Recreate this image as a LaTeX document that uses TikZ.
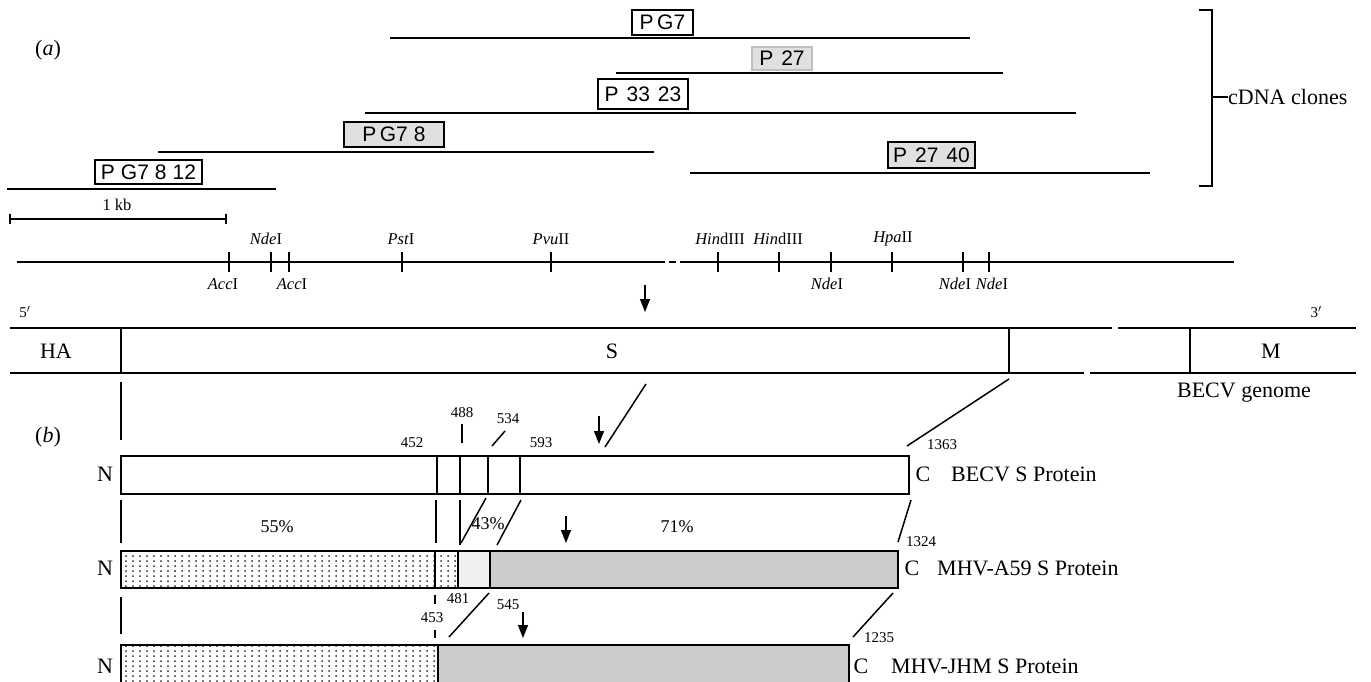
\documentclass[tikz,border=0pt]{standalone}
\usepackage{fontspec}
\setmainfont{Liberation Serif}
\newfontfamily\clonefont{Liberation Sans}
\usetikzlibrary{arrows.meta,patterns}
\pgfdeclarepatternformonly{sparsedots}{\pgfqpoint{-2pt}{-2pt}}{\pgfqpoint{2pt}{2pt}}{\pgfqpoint{7pt}{5pt}}{\pgfpathcircle{\pgfqpoint{0pt}{0pt}}{1pt}\pgfusepath{fill}}
\tikzset{
  big/.style={font=\fontsize{22}{26}\selectfont, inner sep=0pt},
  num/.style={font=\fontsize{15}{18}\selectfont, inner sep=0pt},
  enz/.style={font=\fontsize{16.5}{20}\selectfont, inner sep=0pt},
  pct/.style={font=\fontsize{18}{21}\selectfont, inner sep=0pt},
  clonebox/.style={font=\clonefont\fontsize{21}{24}\selectfont, inner sep=0pt, draw, line width=1.2pt, fill=white},
  ln/.style={line width=1.5pt},
  thin/.style={line width=1.2pt},
  arr/.style={line width=1.4pt, -{Triangle[length=13pt,width=10pt]}},
  dotfill/.style={pattern=sparsedots, pattern color=black!85},
  grayfill/.style={fill=black!20},
}
\begin{document}
\begin{tikzpicture}[x=1pt,y=-1pt]
\useasboundingbox (0,0) rectangle (1371,681);

% ---------------- (a) cDNA clones ----------------
\node[big] (la) at (48,50) {(\textit{a})};

\draw[ln] (390,38) -- (970,38);
\draw[ln] (616,73) -- (1003,73);
\draw[ln] (365,113) -- (1076,113);
\draw[ln] (158,152) -- (654,152);
\draw[ln] (690,173) -- (1150,173);
\draw[ln] (7,189) -- (276,189);

\node[clonebox, minimum width=61pt, minimum height=25pt] (pg7) at (662.5,22.5) {P\,G7};
\node[clonebox, draw=black!25, fill=black!12, minimum width=60pt, minimum height=23pt] (p27) at (782,58.5) {P\hspace{8pt}27};
\node[clonebox, minimum width=90pt, minimum height=30pt] (p3323) at (643,94) {P\hspace{8pt}33\hspace{8pt}23};
\node[clonebox, fill=black!12, minimum width=100pt, minimum height=25pt] (pg78) at (394,134.5) {P\,G7\hspace{6pt}8};
\node[clonebox, fill=black!12, minimum width=87pt, minimum height=26pt] (p2740) at (931.5,155) {P\hspace{8pt}27\hspace{8pt}40};
\node[clonebox, minimum width=107pt, minimum height=24pt] (pg7812) at (148.5,172) {P\hspace{6pt}G7\hspace{6pt}8\hspace{6pt}12};

% bracket
\coordinate (bt) at (1212,10);
\coordinate (bb) at (1212,186);
\coordinate (bm) at (1212,97);
\draw[thin] (1199,10) -- (bt) -- (bb) -- (1199,186);
\node[big, anchor=west] (cdna) at (1228,97) {cDNA clones};
\draw[thin] (bm) -- (cdna.west);

% ---------------- restriction map ----------------
\draw[thin] (10,219) -- (226,219);
\draw[thin] (10,214) -- (10,224);
\draw[thin] (226,214) -- (226,224);
\node[enz] (kb) at (117,205) {1 kb};

\draw[line width=1.6pt] (17,262) -- (665,262);
\draw[line width=1.6pt] (669,262) -- (676,262);
\draw[line width=1.6pt] (680,262) -- (1234,262);

\foreach \x in {229,271,289,402,551,718,779,831,892,963,989}
  \draw[thin] (\x,252) -- (\x,272);

\node[enz] (e1) at (266,239) {\textit{Nde}I};
\node[enz] (e2) at (401,239) {\textit{Pst}I};
\node[enz] (e3) at (551,239) {\textit{Pvu}II};
\node[enz] (e4) at (720,239) {\textit{Hin}dIII};
\node[enz] (e5) at (778,239) {\textit{Hin}dIII};
\node[enz] (e6) at (893,239) {\textit{Hpa}II};
\node[enz] (e7) at (223,284) {\textit{Acc}I};
\node[enz] (e8) at (292,284) {\textit{Acc}I};
\node[enz] (e9) at (827,284) {\textit{Nde}I};
\node[enz] (e10) at (955,284) {\textit{Nde}I};
\node[enz] (e11) at (992,284) {\textit{Nde}I};

\draw[arr] (645,285) -- (645,312);

% ---------------- genome ----------------
\node[num] (p5) at (25,312) {5$'$};
\node[num] (p3) at (1316,312) {3$'$};
\draw[ln] (10,328) -- (1112,328);
\draw[ln] (1118,328) -- (1356,328);
\draw[ln] (10,373) -- (1084,373);
\draw[ln] (1090,373) -- (1356,373);
\draw[thin] (121,328) -- (121,373);
\draw[thin] (1009,328) -- (1009,373);
\draw[thin] (1190,328) -- (1190,373);
\node[big] (ha) at (56,351) {HA};
\node[big] (s) at (612,351) {S};
\node[big] (m) at (1271,351) {M};
\node[big] (gen) at (1244,393) {BECV genome};

% ---------------- (b) proteins ----------------
\node[big] (lb) at (48,437) {(\textit{b})};

\draw[thin] (121,382) -- (121,440);
\draw[ln] (646,384) -- (605,447);
\draw[ln] (1009,379) -- (907,446);
\draw[arr] (599,416) -- (599,444);

\node[num] (n452) at (412,443) {452};
\node[num] (n488) at (462,413) {488};
\draw[thin] (462,424) -- (462,443);
\node[num] (n534) at (508,419) {534};
\draw[ln] (492,446) -- (505,431);
\node[num] (n593) at (541,443) {593};
\node[num] (n1363) at (942,445) {1363};

% BECV S protein bar
\draw[ln] (121,456) rectangle (909,494);
\foreach \x in {437,460,488,520} \draw[thin] (\x,456) -- (\x,494);
\node[big] (nb) at (105,474) {N};
\node[big] (cb) at (923,474) {C};
\node[big, anchor=west] (tb) at (951,474) {BECV S Protein};

% connectors BECV -> A59
\draw[thin] (121,500) -- (121,543);
\draw[thin] (436,500) -- (436,543);
\draw[thin] (460,500) -- (460,545);
\draw[ln] (486,498) -- (461,543);
\draw[ln] (521,500) -- (497,545);
\draw[ln] (911,500) -- (898,542);
\draw[arr] (566,516) -- (566,543);
\node[pct] (p55) at (277,527) {55\%};
\node[pct] (p43) at (488,524) {43\%};
\node[pct] (p71) at (677,527) {71\%};
\node[num] (n1324) at (921,542) {1324};

% MHV-A59 bar
\fill[dotfill] (121,551) rectangle (458,588);
\fill[black!6] (458,551) rectangle (490,588);
\fill[grayfill] (490,551) rectangle (898,588);
\draw[ln] (121,551) rectangle (898,588);
\foreach \x in {435,458,490} \draw[thin] (\x,551) -- (\x,588);
\node[big] (na) at (105,568) {N};
\node[big] (ca) at (912,568) {C};
\node[big, anchor=west] (ta) at (937,568) {MHV-A59 S Protein};

% connectors A59 -> JHM
\draw[thin] (121,597) -- (121,634);
\draw[thin] (435,595) -- (435,604);
\draw[thin] (435,630) -- (435,638);
\node[num] (n481) at (458,599) {481};
\node[num] (n453) at (432,618) {453};
\node[num] (n545) at (508,605) {545};
\draw[ln] (489,593) -- (449,637);
\draw[ln] (893,593) -- (853,637);
\draw[arr] (523,612) -- (523,638);
\node[num] (n1235) at (879,638) {1235};

% MHV-JHM bar
\fill[dotfill] (121,645) rectangle (438,690);
\fill[grayfill] (438,645) rectangle (849,690);
\draw[ln] (121,690) -- (121,645) -- (849,645) -- (849,690);
\draw[thin] (438,645) -- (438,690);
\node[big] (nj) at (105,666) {N};
\node[big] (cj) at (861,666) {C};
\node[big, anchor=west] (tj) at (891,666) {MHV-JHM S Protein};
\end{tikzpicture}
\end{document}
